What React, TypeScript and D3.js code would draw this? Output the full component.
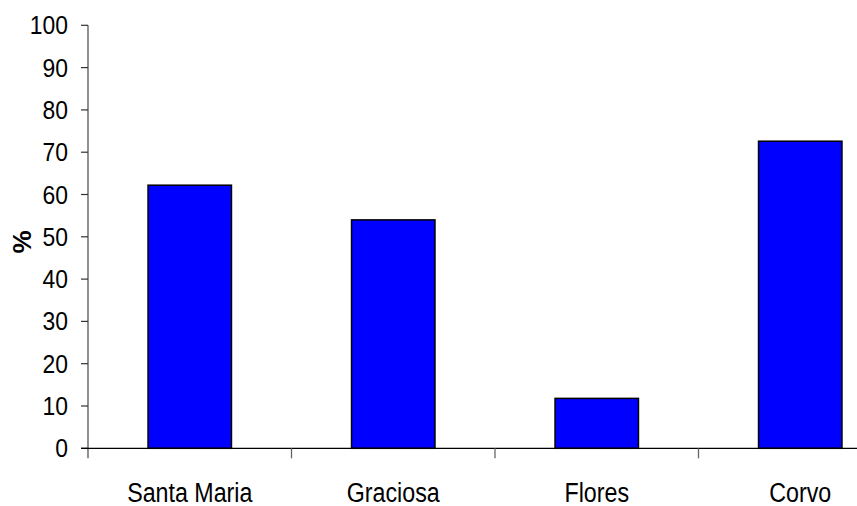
import React from "react";
import * as d3 from "d3";

const islands = ["Santa Maria", "Graciosa", "Flores", "Corvo"];
const percentages = [62.2, 54.0, 11.8, 72.6];
const yTicks = [0, 10, 20, 30, 40, 50, 60, 70, 80, 90, 100];

const W = 857;
const H = 506;
const left = 88;
const top = 25.3;
const bottom = 448.3;
const right = 902; // plot extends past the visible frame

const FONT = "'Liberation Sans', Arial, Helvetica, sans-serif";
const TICK_SQUEEZE = 0.88;
const CAT_SQUEEZE = 0.83;

export default function App() {
  const x = d3
    .scaleBand<string>()
    .domain(islands)
    .range([left, right])
    .paddingInner(0.59)
    .paddingOuter(0.295);
  const step = x.step();
  const y = d3.scaleLinear().domain([0, 100]).range([bottom, top]);

  const boundaries = d3.range(islands.length + 1).map((i) => left + i * step);

  return (
    <svg
      width={W}
      height={H}
      viewBox={`0 0 ${W} ${H}`}
      style={{ position: "fixed", left: 0, top: 0, background: "#fff" }}
    >
      <rect x={0} y={0} width={W} height={H} fill="#fff" />

      {/* bars */}
      {islands.map((name, i) => (
        <rect
          key={name}
          x={x(name)!}
          y={y(percentages[i])}
          width={x.bandwidth()}
          height={y(0) - y(percentages[i])}
          fill="#0000ff"
          stroke="#000"
          strokeWidth={1.5}
        />
      ))}

      {/* y axis */}
      <line x1={left} x2={left} y1={top} y2={bottom + 10} stroke="#555" strokeWidth={1.3} />
      {yTicks.map((t) => (
        <g key={t}>
          <line x1={left - 7} x2={left} y1={y(t)} y2={y(t)} stroke="#333" strokeWidth={1.2} />
          <text
            transform={`translate(${left - 20},${y(t)}) scale(${TICK_SQUEEZE},1)`}
            textAnchor="end"
            dominantBaseline="central"
            fontFamily={FONT}
            fontSize={26}
            fill="#000"
          >
            {t}
          </text>
        </g>
      ))}

      {/* x axis */}
      <line x1={left - 7} x2={right} y1={bottom} y2={bottom} stroke="#000" strokeWidth={1.3} />
      {boundaries.slice(1).map((bx, i) => (
        <line key={i} x1={bx} x2={bx} y1={bottom} y2={bottom + 10} stroke="#666" strokeWidth={1.3} />
      ))}
      {islands.map((name) => (
        <text
          key={name}
          transform={`translate(${x(name)! + x.bandwidth() / 2},${502}) scale(${CAT_SQUEEZE},1)`}
          textAnchor="middle"
          fontFamily={FONT}
          fontSize={28}
          fill="#000"
        >
          {name}
        </text>
      ))}

      {/* y axis title */}
      <text
        transform={`translate(${31},${242}) rotate(-90)`}
        textAnchor="middle"
        fontFamily={FONT}
        fontSize={26}
        fontWeight="bold"
        fill="#000"
      >
        %
      </text>
    </svg>
  );
}
